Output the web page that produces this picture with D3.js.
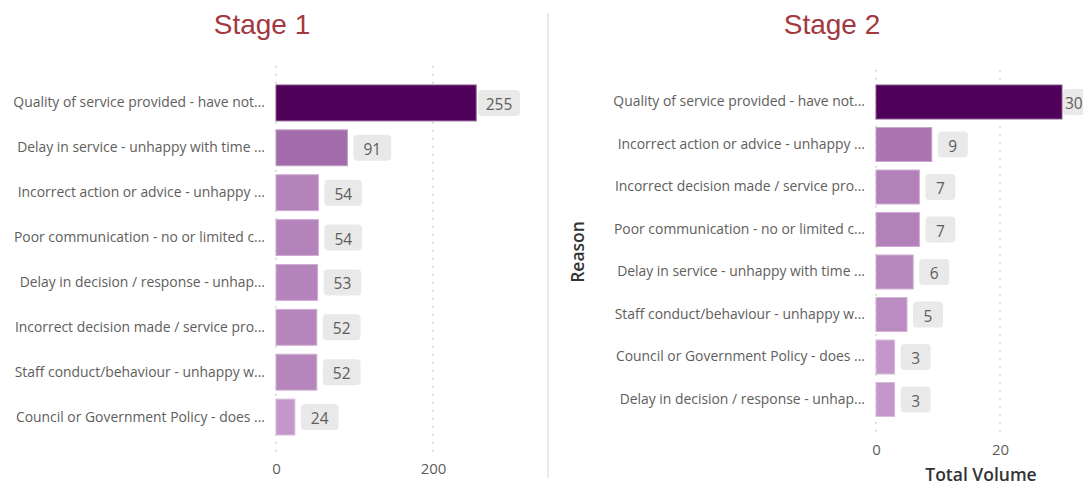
<!DOCTYPE html>
<html>
<head>
<meta charset="utf-8">
<script src="https://cdn.jsdelivr.net/npm/d3@7"></script>
<style>
  html, body { margin: 0; padding: 0; background: #fff; }
  svg { display: block; }
  text { font-family: "Open Sans", "Noto Sans", sans-serif; }
</style>
</head>
<body>
<svg id="chart" width="1083" height="503"></svg>
<script>
// ---------- data ----------
const stage1Categories = [
  "Quality of service provided - have not...",
  "Delay in service - unhappy with time ...",
  "Incorrect action or advice - unhappy ...",
  "Poor communication - no or limited c...",
  "Delay in decision / response - unhap...",
  "Incorrect decision made / service pro...",
  "Staff conduct/behaviour - unhappy w...",
  "Council or Government Policy - does ..."
];
const stage1Values = [255, 91, 54, 54, 53, 52, 52, 24];
const stage1Ticks = [0, 200];

const stage2Categories = [
  "Quality of service provided - have not...",
  "Incorrect action or advice - unhappy ...",
  "Incorrect decision made / service pro...",
  "Poor communication - no or limited c...",
  "Delay in service - unhappy with time ...",
  "Staff conduct/behaviour - unhappy w...",
  "Council or Government Policy - does ...",
  "Delay in decision / response - unhap..."
];
const stage2Values = [30, 9, 7, 7, 6, 5, 3, 3];
const stage2Ticks = [0, 20];

const titles = ["Stage 1", "Stage 2"];
const yAxisTitle = "Reason";
const xAxisTitle = "Total Volume";

// ---------- layout ----------
const W = 1083;
const svg = d3.select("#chart");
const panels = [
  { cats: stage1Categories, vals: stage1Values, ticks: stage1Ticks, title: titles[0],
    xDomain: [0, 300], xRange: [276, 511.5], yRange: [80.5, 439.5],
    gridTop: 66, gridBottom: 455, tickY: 474, titleX: 262, labelLimit: 520 },
  { cats: stage2Categories, vals: stage2Values, ticks: stage2Ticks, title: titles[1],
    xDomain: [0, 30], xRange: [876, 1062], yRange: [80.75, 420.75],
    gridTop: 70, gridBottom: 435, tickY: 455, titleX: 832, labelLimit: 1095 }
];

// divider
svg.append("line")
  .attr("x1", 548).attr("x2", 548).attr("y1", 13).attr("y2", 478)
  .attr("stroke", "#DCDCDC").attr("stroke-width", 1.2);

panels.forEach(p => {
  const g = svg.append("g");
  const x = d3.scaleLinear().domain(p.xDomain).range(p.xRange);
  const y = d3.scaleBand().domain(p.cats).range(p.yRange).paddingInner(0.2).paddingOuter(0.1);
  const color = d3.scaleLinear()
    .domain([d3.min(p.vals), d3.max(p.vals)])
    .range(["#C497CA", "#4F0059"])
    .interpolate(d3.interpolateRgb);

  // title
  g.append("text")
    .attr("x", p.titleX).attr("y", 34)
    .attr("text-anchor", "middle")
    .style("font-family", "'Liberation Sans', Arial, sans-serif")
    .style("font-size", "28px")
    .attr("fill", "#A3383F")
    .text(p.title);

  // gridlines
  g.selectAll("line.grid").data(p.ticks).join("line")
    .attr("class", "grid")
    .attr("x1", d => x(d)).attr("x2", d => x(d))
    .attr("y1", p.gridTop).attr("y2", p.gridBottom)
    .attr("stroke", "#C8C8C8").attr("stroke-width", 1.5)
    .attr("stroke-dasharray", "1.5,6.5");

  // x tick labels
  const xAxis = d3.axisBottom(x).tickValues(p.ticks).tickSize(0).tickPadding(0).tickFormat(d3.format("d"));
  const ax = g.append("g").attr("transform", `translate(0,${p.tickY})`).call(xAxis);
  ax.select(".domain").remove();
  ax.selectAll("text")
    .attr("dy", 0).attr("y", 0)
    .attr("fill", "#605E5C")
    .style("font-size", "15px");

  // category labels
  const yAxis = d3.axisLeft(y).tickSize(0).tickPadding(11);
  const ay = g.append("g").attr("transform", `translate(${x(0)},0)`).call(yAxis);
  ay.select(".domain").remove();
  ay.selectAll("text")
    .attr("fill", "#605E5C")
    .style("font-size", "13.9px");

  // bars
  g.selectAll("rect.bar").data(p.vals).join("rect")
    .attr("class", "bar")
    .attr("x", x(0))
    .attr("y", (d, i) => y(p.cats[i]))
    .attr("width", d => x(d) - x(0))
    .attr("height", y.bandwidth())
    .attr("fill", d => color(d))
    .attr("stroke", d => d3.interpolateRgb(color(d), "#ffffff")(0.35))
    .attr("stroke-width", 1);

  // data labels
  const lg = g.selectAll("g.lbl").data(p.vals).join("g").attr("class", "lbl");
  lg.each(function(d, i) {
    const sel = d3.select(this);
    const t = sel.append("text")
      .attr("fill", "#605E5C")
      .style("font-size", "15.5px")
      .attr("dominant-baseline", "central")
      .text(d);
    const tw = t.node().getComputedTextLength();
    const w = Math.max(30, Math.min(42, tw + 20));
    const h = 26;
    const end = x(d);
    const bx = Math.max(end + 1, Math.min(end + 6, p.labelLimit - w));
    const cy = y(p.cats[i]) + y.bandwidth() / 2;
    sel.insert("rect", "text")
      .attr("x", bx).attr("y", cy - h / 2)
      .attr("width", w).attr("height", h)
      .attr("rx", 4).attr("ry", 4)
      .attr("fill", "#E9E9E9");
    if (bx + w > W) {
      // box runs past the page edge: keep the number itself visible
      t.attr("text-anchor", "start").attr("x", bx + 2).attr("y", cy + 1);
    } else {
      t.attr("text-anchor", "middle").attr("x", bx + w / 2).attr("y", cy + 1);
    }
  });
});

// axis titles
svg.append("text")
  .attr("transform", "translate(584,252) rotate(-90)")
  .attr("text-anchor", "middle")
  .attr("fill", "#333333")
  .style("font-size", "17.5px")
  .style("font-weight", "600")
  .text(yAxisTitle);

svg.append("text")
  .attr("x", 981).attr("y", 481)
  .attr("text-anchor", "middle")
  .attr("fill", "#333333")
  .style("font-size", "17.5px")
  .style("font-weight", "600")
  .text(xAxisTitle);
</script>
</body>
</html>
